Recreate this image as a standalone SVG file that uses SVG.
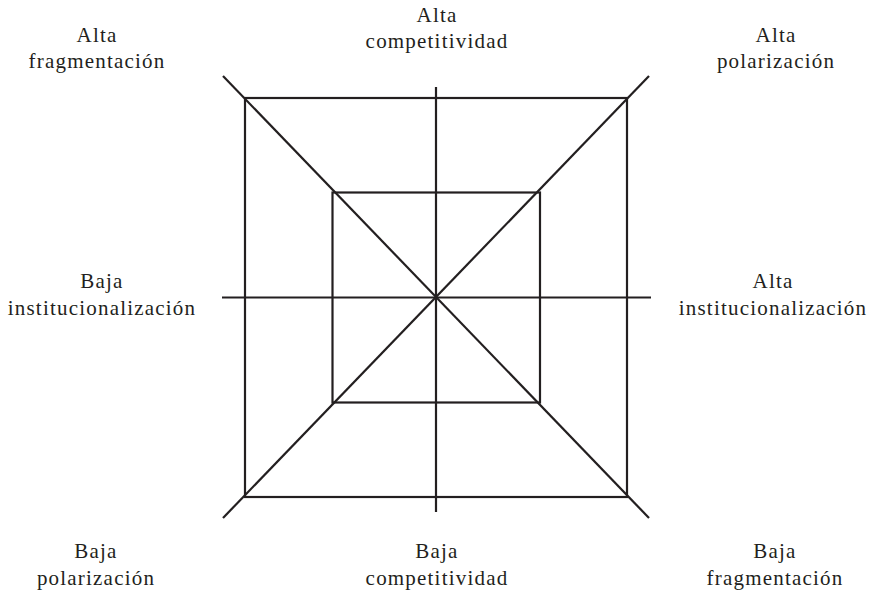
<svg xmlns="http://www.w3.org/2000/svg" width="870" height="595" viewBox="0 0 870 595">
<style>
.l{stroke:#231f20;stroke-width:2.2;fill:none}
text{font-family:"Liberation Serif",serif;font-size:21px;letter-spacing:1.2px;fill:#231f20;text-anchor:middle}
</style>
<rect width="870" height="595" fill="#fff"/>
<g id="connectors">
<rect class="l" x="245" y="98" width="382" height="399"/>
<rect class="l" x="332.5" y="192.5" width="207.5" height="210"/>
<line class="l" x1="436" y1="87" x2="436" y2="512"/>
<line class="l" x1="222" y1="297.5" x2="651" y2="297.5"/>
<line class="l" x1="223" y1="76" x2="649" y2="518"/>
<line class="l" x1="649" y1="76" x2="223" y2="518"/>
</g>
<g id="n-tl"><text x="97" y="42">Alta</text><text x="97" y="68">fragmentación</text></g>
<g id="n-tc"><text x="437" y="22">Alta</text><text x="437" y="48">competitividad</text></g>
<g id="n-tr"><text x="776" y="42">Alta</text><text x="776" y="68">polarización</text></g>
<g id="n-ml"><text x="102" y="288">Baja</text><text x="102" y="315">institucionalización</text></g>
<g id="n-mr"><text x="773" y="288">Alta</text><text x="773" y="315">institucionalización</text></g>
<g id="n-bl"><text x="96" y="558">Baja</text><text x="96" y="585">polarización</text></g>
<g id="n-bc"><text x="437" y="558">Baja</text><text x="437" y="585">competitividad</text></g>
<g id="n-br"><text x="775" y="558">Baja</text><text x="775" y="585">fragmentación</text></g>
</svg>
